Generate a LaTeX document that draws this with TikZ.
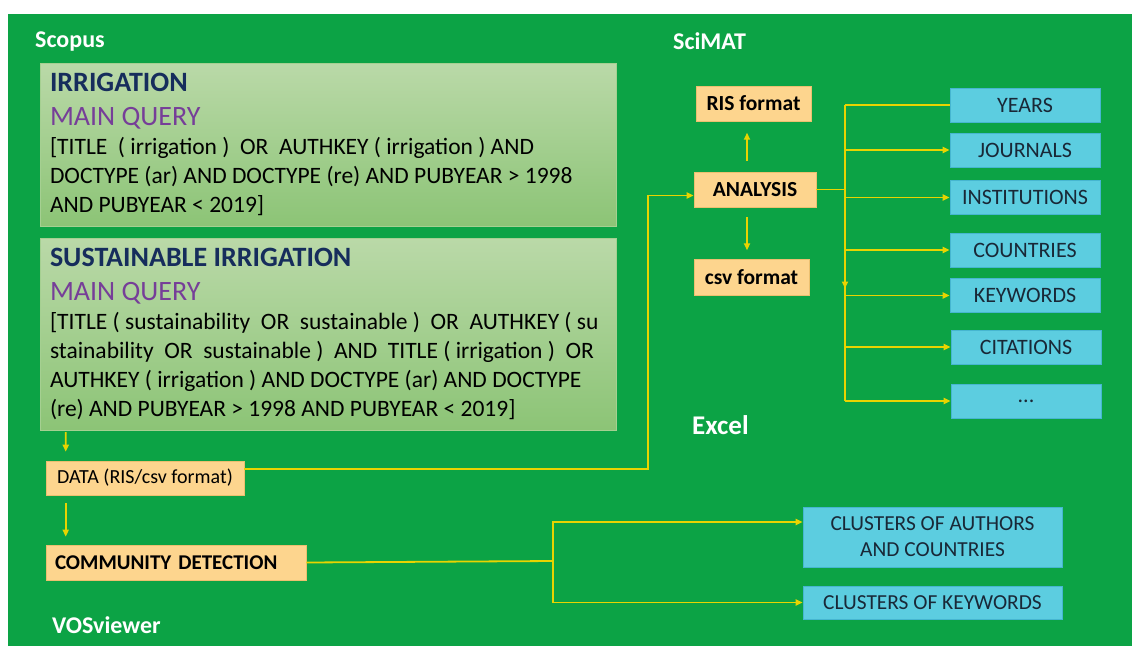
\documentclass[tikz,border=0pt]{standalone}
\usepackage{fontspec}
\setmainfont{Carlito}
\usetikzlibrary{arrows.meta}

\definecolor{bggreen}{RGB}{12,163,69}
\definecolor{qtop}{RGB}{186,217,168}
\definecolor{qbot}{RGB}{140,196,118}
\definecolor{qedge}{RGB}{165,208,145}
\definecolor{hdblue}{RGB}{22,45,92}
\definecolor{mqpurple}{RGB}{118,62,152}
\definecolor{orfill}{RGB}{253,213,142}
\definecolor{oredge}{RGB}{236,192,112}
\definecolor{blfill}{RGB}{92,205,224}
\definecolor{bledge}{RGB}{70,182,208}
\definecolor{bltext}{RGB}{25,40,55}
\definecolor{flowc}{RGB}{232,212,0}

\newcommand{\hdfont}{\fontsize{28}{34}\selectfont\bfseries\color{hdblue}}
\newcommand{\mqfont}{\fontsize{28}{34}\selectfont\color{mqpurple}}
\newcommand{\qfont}{\fontsize{23.5}{29}\selectfont}

\begin{document}
\begin{tikzpicture}[x=1pt,y=-1pt,
	lbl/.style={anchor=base west, inner sep=0pt, text=white, font=\bfseries},
	qbox/.style={rectangle, top color=qtop, bottom color=qbot, draw=qedge, minimum width=576pt, inner sep=0pt},
	obox/.style={rectangle, fill=orfill, draw=oredge, line width=0.6pt, inner sep=0pt, font=\fontsize{21.5}{24}\selectfont\bfseries},
	bbox/.style={rectangle, fill=blfill, draw=bledge, line width=0.6pt, inner sep=0pt, minimum width=150pt, minimum height=34pt, text=bltext, font=\fontsize{22}{26}\selectfont},
	flow/.style={draw=flowc, line width=1.8pt},
	arr/.style={-{Triangle[length=7pt,width=6pt]}}]

	\useasboundingbox (0,0) rectangle (1132,646);
	\fill[white] (0,0) rectangle (1132,646);
	\fill[bggreen] (8,14) rectangle (1132,646);

	% labels
	\node[lbl, font=\fontsize{24}{28}\selectfont\bfseries] (scopus) at (35,47) {Scopus};
	\node[lbl, font=\fontsize{24}{28}\selectfont\bfseries] (scimat) at (673,49) {SciMAT};
	\node[lbl, font=\fontsize{27}{30}\selectfont\bfseries] (excel) at (692,434) {Excel};
	\node[lbl, font=\fontsize{24}{28}\selectfont\bfseries] (vosviewer) at (52,633) {VOSviewer};

	% queries
	\node[qbox, minimum height=163pt] (qirr) at (328,144.5) {\begin{minipage}{556pt}
		{\hdfont IRRIGATION\par}
		{\mqfont MAIN QUERY\par}
		{\qfont [TITLE\ \ ( irrigation )\ \ OR\ \ AUTHKEY ( irrigation ) AND\\
		DOCTYPE (ar) AND DOCTYPE (re) AND PUBYEAR > 1998\\
		AND PUBYEAR < 2019]\par}
	\end{minipage}};
	\node[qbox, minimum height=192pt] (qsus) at (328,334) {\begin{minipage}{556pt}
		{\hdfont SUSTAINABLE IRRIGATION\par}
		{\mqfont MAIN QUERY\par}
		{\qfont [TITLE ( sustainability\ \ OR\ \ sustainable )\ \ OR\ \ AUTHKEY ( su\\
		stainability\ \ OR\ \ sustainable )\ \ AND\ \ TITLE ( irrigation )\ \ OR\\
		AUTHKEY ( irrigation ) AND DOCTYPE (ar) AND DOCTYPE\\
		(re) AND PUBYEAR > 1998 AND PUBYEAR < 2019]\par}
	\end{minipage}};

	% left column
	\node[obox, font=\fontsize{20}{24}\selectfont, minimum width=198pt, minimum height=34pt] (data) at (145,478) {DATA (RIS/csv format)};
	\node[obox, font=\fontsize{21}{24}\selectfont\bfseries, text width=242pt, inner xsep=9pt, align=left, minimum height=35pt] (community) at (176,562.5) {COMMUNITY DETECTION};

	% SciMAT
	\node[obox, minimum width=115pt, minimum height=35pt] (ris) at (753.5,103.5) {RIS format};
	\node[obox, minimum width=122pt, minimum height=35pt] (analysis) at (755,189.5) {ANALYSIS};
	\node[obox, minimum width=115pt, minimum height=36pt] (csv) at (751.5,277) {csv format};

	\node[bbox] (years) at (1025,105) {YEARS};
	\node[bbox] (journals) at (1025,150) {JOURNALS};
	\node[bbox] (institutions) at (1025,197.5) {INSTITUTIONS};
	\node[bbox] (countries) at (1025,250) {COUNTRIES};
	\node[bbox] (keywords) at (1025,295.5) {KEYWORDS};
	\node[bbox] (citations) at (1026,347) {CITATIONS};
	\node[bbox] (dots) at (1026,401) {...};

	% VOSviewer
	\node[bbox, minimum width=259pt, minimum height=60pt, align=center, font=\fontsize{21.4}{26}\selectfont] (clauth) at (932.5,537) {CLUSTERS OF AUTHORS\\AND COUNTRIES};
	\node[bbox, minimum width=259pt, minimum height=33pt, font=\fontsize{21.4}{26}\selectfont] (clkey) at (932.5,602.5) {CLUSTERS OF KEYWORDS};

	% connectors
	\coordinate (jn) at (845,189.5);
	\coordinate (cj) at (553,561);

	\draw[flow,arr] ([xshift=26pt,yshift=-2pt]qsus.south west) -- ([xshift=20pt,yshift=9pt]data.north west);
	\draw[flow,arr] ([xshift=20pt,yshift=-8pt]data.south west) -- ([xshift=20pt,yshift=8pt]community.north west);
	\draw[flow,arr] ([yshift=9pt]data.east) -- ++(404,0) |- ([yshift=-6pt]analysis.west);

	\draw[flow,arr] ([xshift=-8pt,yshift=11pt]analysis.north) -- ++(0,-28);
	\draw[flow,arr] ([xshift=-8pt,yshift=-10pt]analysis.south) -- ++(0,33);

	\draw[flow] (analysis.east) -- (jn);
	\draw[flow] (jn |- years) -- (jn |- dots);
	\draw[flow,arr] (jn) -- ++(0,99);
	\draw[flow] (jn |- years) -- (years.west);
	\foreach \b in {journals,institutions,countries,keywords,citations,dots}
		\draw[flow,arr] (jn |- \b) -- (\b.west);

	\draw[flow] (community.east) -- (cj);
	\draw[flow,arr] (cj) |- ([yshift=15pt]clauth.west);
	\draw[flow,arr] (cj) |- (clkey.west);

\end{tikzpicture}
\end{document}
